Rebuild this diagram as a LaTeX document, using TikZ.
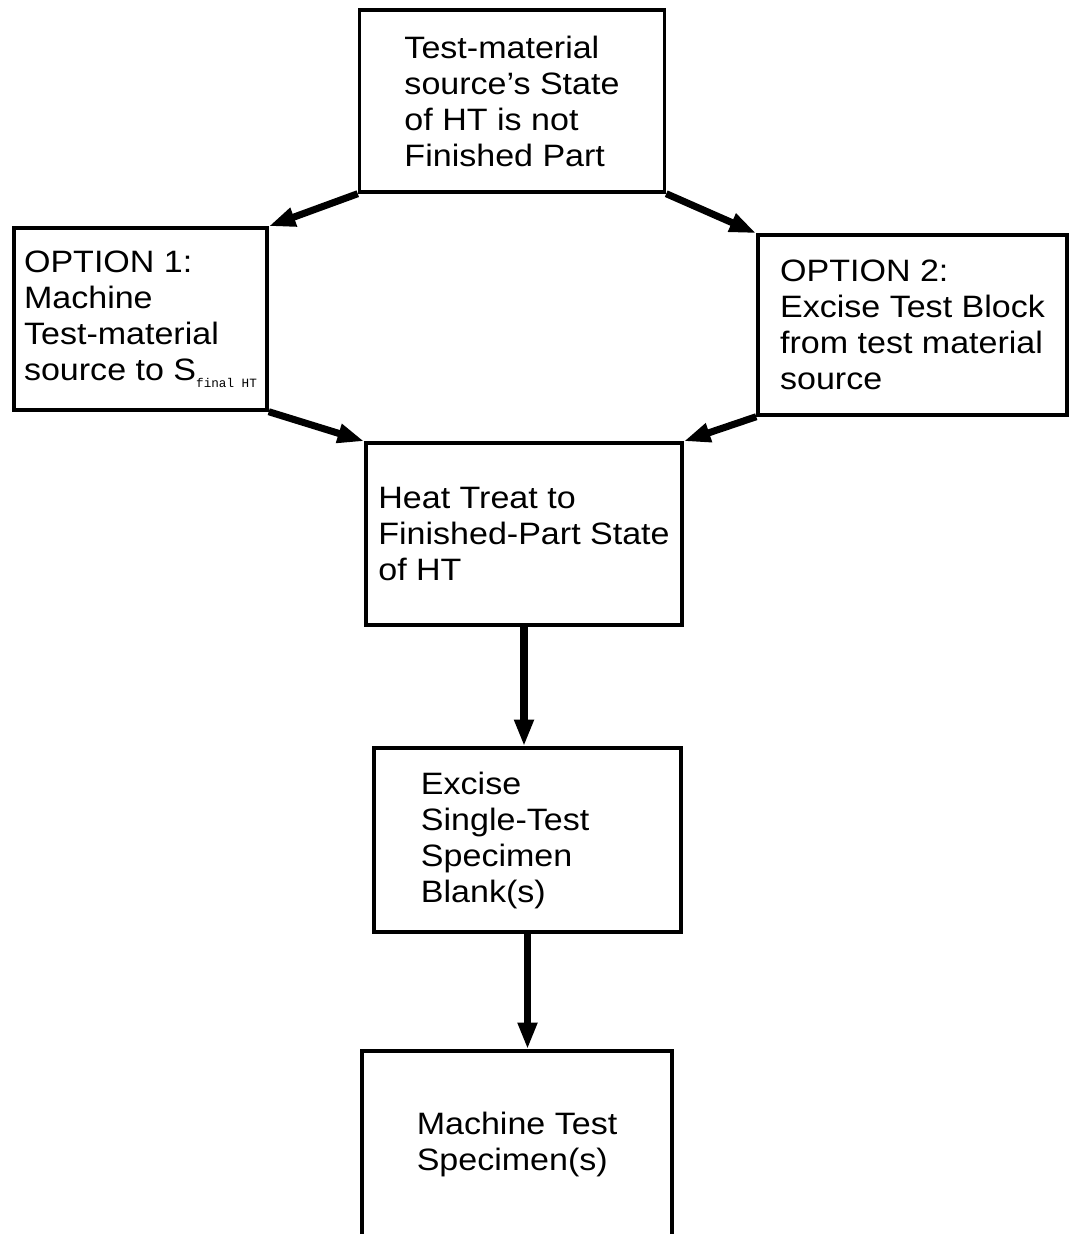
\documentclass[tikz,border=0pt]{standalone}
\usepackage{fontspec}
\setmainfont[FakeStretch=1.1]{Liberation Sans}
\setmonofont{Liberation Mono}
\usetikzlibrary{arrows.meta}

\tikzset{
  stepbox/.style={draw, line width=2.4pt, align=left, inner sep=0pt,
    font=\fontsize{22}{25.6}\selectfont},
  flow/.style={line width=5pt, -{Triangle[length=19pt,width=13pt]}}
}

\begin{document}
\begin{tikzpicture}[x=0.025cm,y=-0.025cm]
\useasboundingbox (0,0) rectangle (1069,1234);

\coordinate (T) at (512,101);
\coordinate (O1) at (140.5,319);
\coordinate (O2) at (912.5,325);
\coordinate (H) at (524,534);
\coordinate (E) at (527.5,840);
\coordinate (M) at (517,1144);

\node[stepbox, minimum width=7.625cm, minimum height=4.55cm] (top) at (T)
  {Test-material\\source's State\\of HT is not\\Finished Part};
\node[stepbox, minimum width=6.325cm, minimum height=4.55cm] (opt1) at (O1)
  {OPTION 1:\\Machine\\Test-material\\source to S\raisebox{-5pt}{\fontsize{9}{9}\ttfamily final HT}};
\node[stepbox, minimum width=7.725cm, minimum height=4.5cm] (opt2) at (O2)
  {OPTION 2:\\Excise Test Block\\from test material\\source};
\node[stepbox, minimum width=7.9cm, minimum height=4.55cm] (heat) at (H)
  {Heat Treat to\\Finished-Part State\\of HT};
\node[stepbox, minimum width=7.675cm, minimum height=4.6cm, text width=5.325cm] (excise) at (E)
  {Excise\\Single-Test\\Specimen\\Blank(s)};
\node[stepbox, minimum width=7.75cm, minimum height=4.65cm] (machine) at (M)
  {Machine Test\\Specimen(s)};

\draw[flow] (top.south west) -- (opt1.north east);
\draw[flow] (top.south east) -- (opt2.north west);
\draw[flow] (opt1.south east) -- (heat.north west);
\draw[flow] (opt2.south west) -- (heat.north east);
\draw[flow] (heat.south) -- (heat.south |- excise.north);
\draw[flow] (excise.south) -- (excise.south |- machine.north);
\end{tikzpicture}
\end{document}
